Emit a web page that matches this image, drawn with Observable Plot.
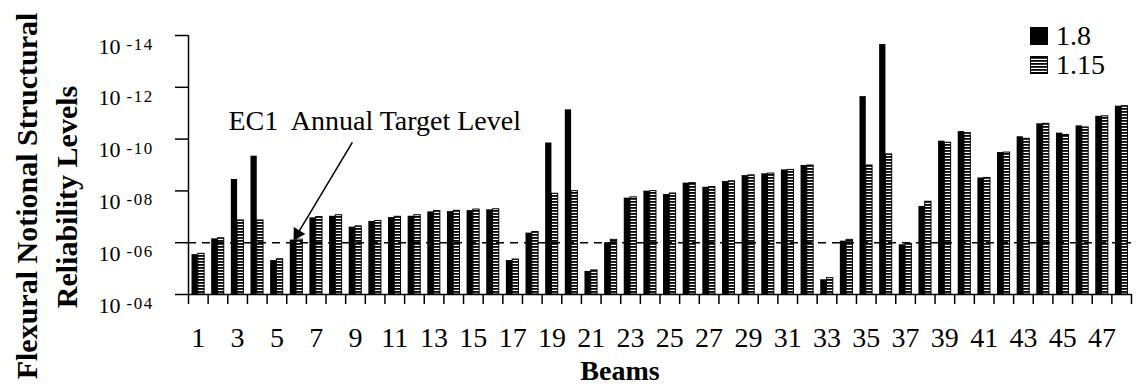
<!DOCTYPE html>
<html><head><meta charset="utf-8">
<script src="https://cdn.jsdelivr.net/npm/d3@7"></script>
<script src="https://cdn.jsdelivr.net/npm/@observablehq/plot@0.6"></script>
<style>body{margin:0;background:#fff} #chart{width:1136px;height:392px;position:relative} #chart svg text{font-family:'Liberation Serif','Times New Roman',serif} #chart svg g.sup text{letter-spacing:1.5px}</style>
</head><body>
<svg width="0" height="0" style="position:absolute"><defs><pattern id="hatch" patternUnits="userSpaceOnUse" width="6" height="3"><rect width="6" height="3" fill="#fff"/><rect width="6" height="1.8" fill="#000"/></pattern></defs></svg>
<div id="chart"></div>
<script>
// Beams (categories)
const beams = [1,2,3,4,5,6,7,8,9,10,11,12,13,14,15,16,17,18,19,20,21,22,23,24,25,26,27,28,29,30,31,32,33,34,35,36,37,38,39,40,41,42,43,44,45,46,47,48];
const series = ["1.8", "1.15"];
// Reliability level exponent n (level = 10^-n) for each series
const level18 = [5.54,6.15,8.44,9.34,5.31,6.10,6.96,7.02,6.60,6.82,6.97,7.02,7.19,7.20,7.24,7.27,5.31,6.37,9.85,11.13,4.89,6.00,7.72,7.99,7.86,8.30,8.14,8.36,8.59,8.66,8.81,8.98,4.57,6.06,11.64,13.65,5.92,7.40,9.92,10.29,8.50,9.48,10.09,10.59,10.23,10.51,10.88,11.27];
const level115 = [5.57,6.17,6.86,6.86,5.36,6.12,6.99,7.06,6.63,6.84,7.00,7.06,7.22,7.23,7.28,7.29,5.35,6.41,7.89,7.99,4.93,6.11,7.75,7.99,7.90,8.30,8.15,8.37,8.60,8.67,8.81,8.98,4.63,6.11,8.98,9.41,5.96,7.58,9.86,10.23,8.50,9.48,10.01,10.59,10.16,10.45,10.88,11.27];
const yTicks = [4,6,8,10,12,14];
const xLabels = [1,3,5,7,9,11,13,15,17,19,21,23,25,27,29,31,33,35,37,39,41,43,45,47];
const targetLevel = 6;
const annotationText = "EC1\u00a0 Annual Target Level";
const arrowTail = {x: 8.84, y: 9.87};
const arrowHead = {x: 6.05, y: 6.34};

const data = beams.map((b, i) => ({beam: b, a: level18[i], b: level115[i]}));
const boundaries = beams.map(b => b - 0.5).concat([beams[beams.length - 1] + 0.5]);
const font = "'Liberation Serif', 'Times New Roman', serif";
const half = 0.32;

const plot = Plot.plot({
  width: 1136, height: 392,
  marginLeft: 188, marginRight: 5, marginTop: 35, marginBottom: 98,
  style: {fontFamily: font, background: "#fff", color: "#000", overflow: "visible"},
  x: {type: "linear", domain: [0.5, 48.5], label: null},
  y: {domain: [4, 14], label: null},
  marks: [
    Plot.rectY(data, {x1: d => d.beam - half, x2: d => d.beam, y1: 4, y2: "a", fill: "#000"}),
    Plot.rectY(data, {x1: d => d.beam, x2: d => d.beam + half, y1: 4, y2: "b", fill: "url(#hatch)", stroke: "#000", strokeWidth: 1}),
    Plot.ruleY([targetLevel], {stroke: "#000", strokeWidth: 1.6, strokeDasharray: "8,6"}),
    Plot.ruleX([0.5], {y1: 4, y2: 14, stroke: "#000", strokeWidth: 1.5}),
    Plot.ruleY([4], {stroke: "#000", strokeWidth: 1.5}),
    Plot.axisY(yTicks, {tickSize: 13, tickFormat: () => "", label: null, strokeWidth: 1.5}),
    Plot.axisX(boundaries, {tickSize: 10, tickFormat: () => "", label: null, strokeWidth: 1.5}),
    Plot.axisX(xLabels, {tickSize: 0, tickPadding: 33, fontSize: 28, fontFamily: font, label: null}),
    Plot.text(yTicks, {y: d => d, text: () => "10", frameAnchor: "left", textAnchor: "start", dx: -90, dy: 11, fontSize: 22, fontFamily: font}),
    Plot.text(yTicks, {y: d => d, text: d => "-" + String(d).padStart(2, "0"), frameAnchor: "left", textAnchor: "start", dx: -62, dy: 9, fontSize: 17, fontFamily: font, className: "sup"}),
    Plot.text([annotationText], {frameAnchor: "top-left", dx: 40, dy: 75, textAnchor: "start", lineAnchor: "top", fontSize: 28, fontFamily: font}),
    Plot.link([{x1: arrowTail.x, y1: arrowTail.y, x2: arrowHead.x, y2: arrowHead.y}], {x1: "x1", y1: "y1", x2: "x2", y2: "y2", stroke: "#000", strokeWidth: 1.5}),
    Plot.dot([arrowHead], {x: "x", y: "y", symbol: "triangle", r: 5, fill: "#000", stroke: "none", rotate: 211})
  ]
});

const svg = d3.select(plot);
// legend
const lg = svg.append("g").attr("text-anchor", "start");
lg.append("rect").attr("x", 1030).attr("y", 27).attr("width", 18).attr("height", 18).attr("fill", "#000");
lg.append("rect").attr("x", 1030.5).attr("y", 56.5).attr("width", 17).attr("height", 17).attr("fill", "url(#hatch)").attr("stroke", "#000");
lg.selectAll("text.l").data(series).join("text").attr("class", "l")
  .attr("x", 1056).attr("y", (d, i) => 45 + i * 29).attr("text-anchor", "start")
  .attr("font-family", font).attr("font-size", 28).attr("fill", "#000").text(d => d);
// axis titles
svg.append("text").attr("transform", "translate(37,196) rotate(-90)").attr("text-anchor", "middle").attr("font-family", font)
  .attr("font-weight", "bold").attr("font-size", 30).attr("fill", "#000").text("Flexural Notional Structural");
svg.append("text").attr("transform", "translate(77,197) rotate(-90)").attr("text-anchor", "middle").attr("font-family", font)
  .attr("font-weight", "bold").attr("font-size", 30).attr("fill", "#000").text("Reliability Levels");
svg.append("text").attr("x", 620).attr("y", 380).attr("text-anchor", "middle").attr("font-family", font)
  .attr("font-weight", "bold").attr("font-size", 28).attr("fill", "#000").text("Beams");

document.getElementById("chart").appendChild(plot);
</script>
</body></html>
